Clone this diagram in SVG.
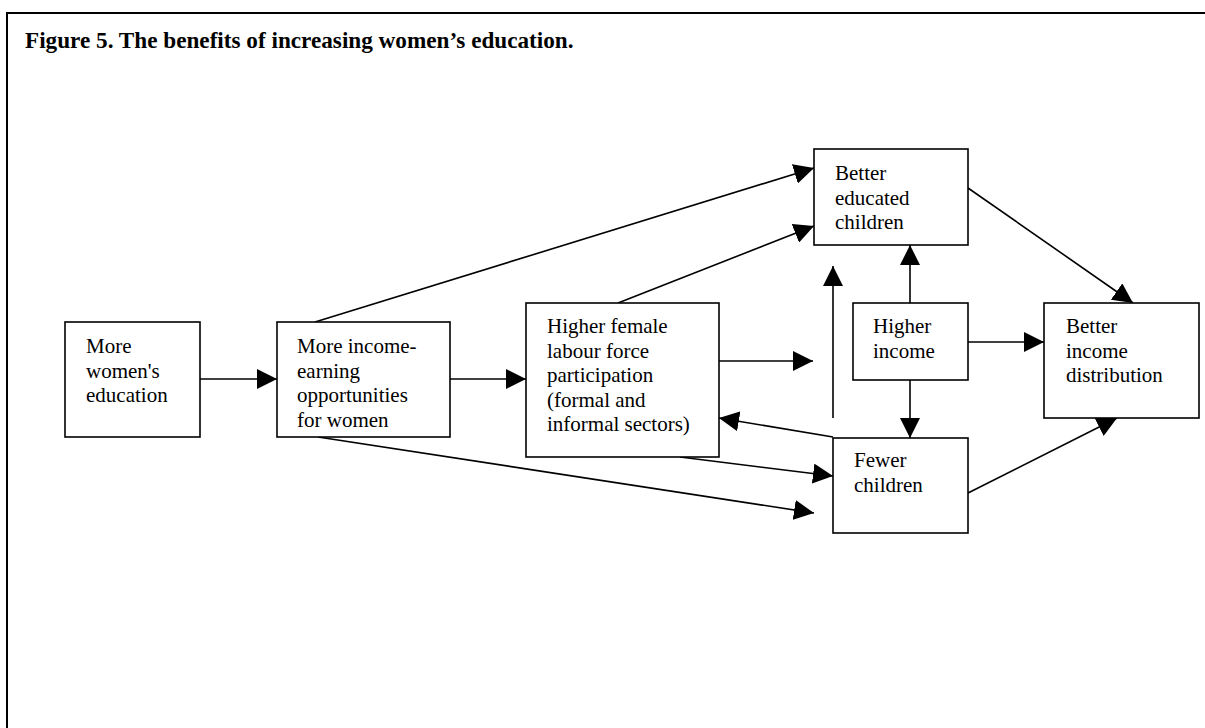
<svg xmlns="http://www.w3.org/2000/svg" width="1205" height="728" viewBox="0 0 1205 728">
<style>
.box{fill:#fff;stroke:#000;stroke-width:1.6}
.t{font-family:"Liberation Serif","Times New Roman",serif;font-size:21px;fill:#000}
.title{font-family:"Liberation Serif","Times New Roman",serif;font-size:23.2px;font-weight:bold;fill:#000}
.c{stroke:#000;stroke-width:1.6;fill:none;marker-end:url(#ah)}
</style>
<defs>
<marker id="ah" markerUnits="userSpaceOnUse" markerWidth="20" markerHeight="20" refX="20" refY="10" orient="auto" viewBox="0 0 20 20">
<path d="M0,0 L20,10 L0,20 Z" fill="#000"/>
</marker>
</defs>
<rect width="1205" height="728" fill="#fff"/>
<rect x="7" y="13" width="1210" height="730" fill="none" stroke="#000" stroke-width="2"/>
<text class="title" x="25" y="48">Figure 5. The benefits of increasing women’s education.</text>

<g id="connectors">
<line class="c" x1="200" y1="379" x2="277" y2="379"/>
<line class="c" x1="450" y1="379" x2="526" y2="379"/>
<line class="c" x1="315" y1="322" x2="814" y2="168"/>
<line class="c" x1="618" y1="303" x2="814" y2="226"/>
<line class="c" x1="719" y1="361" x2="813" y2="361"/>
<line class="c" x1="833" y1="418" x2="833" y2="266"/>
<line class="c" x1="910" y1="303" x2="910" y2="245"/>
<line class="c" x1="910" y1="380" x2="910" y2="438"/>
<line class="c" x1="968" y1="342" x2="1044" y2="342"/>
<line class="c" x1="833" y1="437" x2="719" y2="418"/>
<line class="c" x1="680" y1="457" x2="833" y2="476"/>
<line class="c" x1="318" y1="437" x2="814" y2="513"/>
<line class="c" x1="968" y1="188" x2="1133" y2="303"/>
<line class="c" x1="968" y1="493" x2="1117" y2="418"/>
</g>

<g id="n1">
<rect class="box" x="65" y="322" width="135" height="115"/>
<text class="t" x="86" y="353">More</text>
<text class="t" x="86" y="377.5">women's</text>
<text class="t" x="86" y="402">education</text>
</g>
<g id="n2">
<rect class="box" x="277" y="322" width="173" height="115"/>
<text class="t" x="297" y="353">More income-</text>
<text class="t" x="297" y="377.5">earning</text>
<text class="t" x="297" y="402">opportunities</text>
<text class="t" x="297" y="426.5">for women</text>
</g>
<g id="n3">
<rect class="box" x="526" y="303" width="193" height="154"/>
<text class="t" x="547" y="333">Higher female</text>
<text class="t" x="547" y="357.5">labour force</text>
<text class="t" x="547" y="382">participation</text>
<text class="t" x="547" y="406.5">(formal and</text>
<text class="t" x="547" y="431">informal sectors)</text>
</g>
<g id="n4">
<rect class="box" x="814" y="149" width="154" height="96"/>
<text class="t" x="835" y="180">Better</text>
<text class="t" x="835" y="204.5">educated</text>
<text class="t" x="835" y="229">children</text>
</g>
<g id="n5">
<rect class="box" x="853" y="303" width="115" height="77"/>
<text class="t" x="873" y="333">Higher</text>
<text class="t" x="873" y="357.5">income</text>
</g>
<g id="n6">
<rect class="box" x="833" y="438" width="135" height="95"/>
<text class="t" x="854" y="467">Fewer</text>
<text class="t" x="854" y="491.5">children</text>
</g>
<g id="n7">
<rect class="box" x="1044" y="303" width="155" height="115"/>
<text class="t" x="1066" y="333">Better</text>
<text class="t" x="1066" y="357.5">income</text>
<text class="t" x="1066" y="382">distribution</text>
</g>
</svg>
